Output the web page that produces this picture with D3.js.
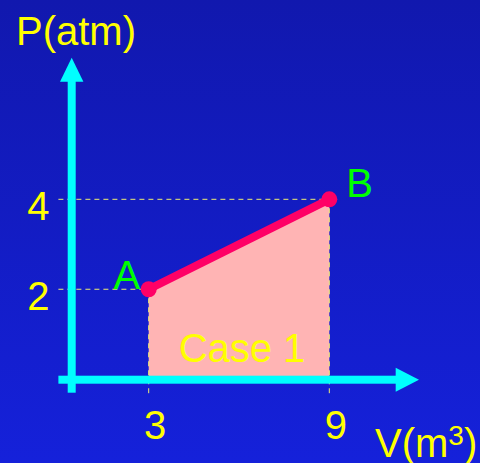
<!DOCTYPE html>
<html>
<head>
<meta charset="utf-8">
<script src="https://cdn.jsdelivr.net/npm/d3@7"></script>
<style>
  html, body { margin: 0; padding: 0; overflow: hidden; }
  svg { display: block; }
  text { font-family: "Liberation Sans", Arial, sans-serif; }
</style>
</head>
<body>
<div id="chart"></div>
<script>
// chart values
var stateNames = ["A", "B"];
var volumes = [3, 9];     // V (m^3)
var pressures = [2, 4];   // P (atm)
var xTicks = [3, 9];
var yTicks = [2, 4];
var caseLabel = "Case 1";

var svgWidth = 480;
var svgHeight = 463;

var svg = d3.select("#chart")
    .append("svg")
    .attr("width", svgWidth)
    .attr("height", svgHeight);

// background gradient
var defs = svg.append("defs");
var grad = defs.append("linearGradient")
    .attr("id", "bg")
    .attr("x1", 0).attr("y1", 0)
    .attr("x2", 0).attr("y2", 1);
grad.append("stop").attr("offset", "0%").attr("stop-color", "#1118ae");
grad.append("stop").attr("offset", "100%").attr("stop-color", "#1521da");

svg.append("rect")
    .attr("width", svgWidth)
    .attr("height", svgHeight)
    .attr("fill", "url(#bg)");

// scales
var x = d3.scaleLinear().domain([0, 9]).range([58.4, 329.3]);
var y = d3.scaleLinear().domain([0, 4]).range([379.2, 199.3]);

var points = stateNames.map(function(n, i) {
    return { name: n, v: volumes[i], p: pressures[i] };
});

// work area under the path
var area = d3.area()
    .x(d => x(d.v))
    .y0(y(0))
    .y1(d => y(d.p));

svg.append("path")
    .datum(points)
    .attr("d", area)
    .attr("fill", "#ffb4b4");

// dashed guide lines
var guides = svg.append("g")
    .attr("stroke", "#f0f070")
    .attr("stroke-width", 1)
    .attr("stroke-dasharray", "5,4");

guides.selectAll(".hguide")
    .data(points)
    .enter()
    .append("line")
    .attr("x1", x(0))
    .attr("x2", d => x(d.v))
    .attr("y1", d => y(d.p))
    .attr("y2", d => y(d.p));

guides.selectAll(".vguide")
    .data(points)
    .enter()
    .append("line")
    .attr("x1", d => x(d.v))
    .attr("x2", d => x(d.v))
    .attr("y1", d => y(d.p))
    .attr("y2", y(0) + 14);

// cyan axes with arrow heads
var axisColor = "#00ffff";
var yAxisX = x(0) + 13.3;
var xAxisY = y(0) + 0.5;

svg.append("rect")
    .attr("x", yAxisX - 4)
    .attr("y", 80)
    .attr("width", 8)
    .attr("height", xAxisY + 13 - 80)
    .attr("fill", axisColor);
svg.append("path")
    .attr("d", `M${yAxisX},57.7 L${yAxisX - 11.7},81.7 L${yAxisX + 11.7},81.7 Z`)
    .attr("fill", axisColor);

svg.append("rect")
    .attr("x", x(0))
    .attr("y", xAxisY - 4)
    .attr("width", 396 - x(0))
    .attr("height", 8)
    .attr("fill", axisColor);
svg.append("path")
    .attr("d", `M419,${xAxisY} L395.7,${xAxisY - 12} L395.7,${xAxisY + 12} Z`)
    .attr("fill", axisColor);

// process line A -> B
svg.append("path")
    .datum(points)
    .attr("d", d3.line().x(d => x(d.v)).y(d => y(d.p)))
    .attr("fill", "none")
    .attr("stroke", "#ff0066")
    .attr("stroke-width", 8);

svg.selectAll(".pt")
    .data(points)
    .enter()
    .append("circle")
    .attr("cx", d => x(d.v))
    .attr("cy", d => y(d.p))
    .attr("r", 8)
    .attr("fill", "#ff0066");

// state labels
svg.selectAll(".stateLabel")
    .data(points)
    .enter()
    .append("text")
    .attr("x", (d, i) => i === 0 ? x(d.v) - 8.5 : x(d.v) + 17)
    .attr("y", (d, i) => i === 0 ? y(d.p) : y(d.p) - 2)
    .attr("text-anchor", (d, i) => i === 0 ? "end" : "start")
    .attr("font-size", "40px")
    .attr("fill", "#00ff00")
    .text(d => d.name);

// tick labels
var bottomAxis = d3.axisBottom(x).tickValues(xTicks).tickSize(0).tickFormat(d3.format("d"));
var leftAxis = d3.axisLeft(y).tickValues(yTicks).tickSize(0).tickFormat(d3.format("d"));

var gx = svg.append("g")
    .attr("transform", `translate(0, ${y(0)})`)
    .call(bottomAxis);
gx.select(".domain").remove();
gx.selectAll("text")
    .attr("y", 60)
    .attr("dy", 0)
    .attr("dx", 6)
    .attr("font-size", "40px")
    .attr("font-family", "'Liberation Sans', Arial, sans-serif")
    .attr("fill", "#ffff00");

var gy = svg.append("g")
    .attr("transform", `translate(${x(0)}, 0)`)
    .call(leftAxis);
gy.select(".domain").remove();
gy.selectAll("text")
    .attr("x", -9)
    .attr("dy", "0.5em")
    .attr("font-size", "40px")
    .attr("font-family", "'Liberation Sans', Arial, sans-serif")
    .attr("fill", "#ffff00");

// axis titles
svg.append("text")
    .attr("x", 16)
    .attr("y", 45)
    .attr("font-size", "40px")
    .attr("fill", "#ffff00")
    .text("P(atm)");

var vTitle = svg.append("text")
    .attr("x", 375)
    .attr("y", 457)
    .attr("font-size", "40px")
    .attr("fill", "#ffff00");
vTitle.append("tspan").text("V(m");
vTitle.append("tspan").attr("dy", -12).attr("font-size", "28px").text("3");
vTitle.append("tspan").attr("dy", 12).text(")");

// area label
svg.append("text")
    .attr("x", (x(volumes[0]) + x(volumes[1])) / 2 + 3)
    .attr("y", y(0) - 17.5)
    .attr("text-anchor", "middle")
    .attr("font-size", "40px")
    .attr("fill", "#ffff00")
    .text(caseLabel);
</script>
</body>
</html>
